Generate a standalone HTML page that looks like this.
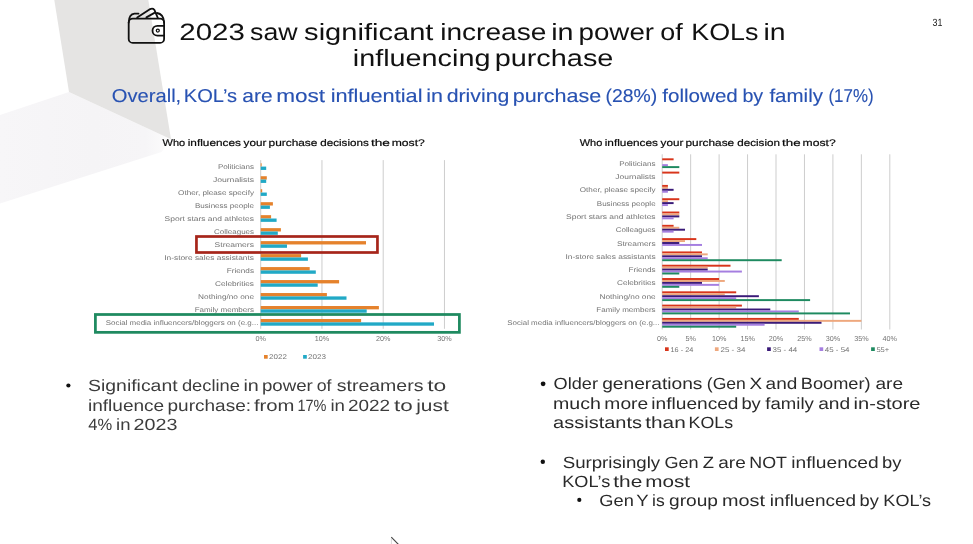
<!DOCTYPE html>
<html lang="en">
<head>
<meta charset="utf-8">
<title>2023 saw significant increase in power of KOLs in influencing purchase</title>
<style>
html,body{margin:0;padding:0;background:#fff;}
body{width:973px;height:544px;overflow:hidden;font-family:"Liberation Sans", sans-serif;}
svg{display:block;font-family:"Liberation Sans", sans-serif;text-rendering:geometricPrecision;}
</style>
</head>
<body>
<svg width="973" height="544" viewBox="0 0 973 544">
<defs>
<linearGradient id="gl" x1="0" y1="0" x2="1" y2="0">
<stop offset="0" stop-color="#f7f6f8"/><stop offset="0.55" stop-color="#f5f4f6"/><stop offset="0.85" stop-color="#f6f5f7"/><stop offset="1" stop-color="#fcfcfc"/>
</linearGradient>
</defs>
<rect width="973" height="544" fill="#ffffff"/>

<polygon points="0,115 69,92 171,139.3 161.5,152 0,203.6" fill="url(#gl)"/>
<polygon points="54.3,0 148.3,0 171,139.3 69,92" fill="#e5e4e3"/>
<g fill="none" stroke="#111" stroke-width="1.8" stroke-linecap="round" stroke-linejoin="round">
<rect x="128.7" y="18.6" width="35.4" height="24.3" rx="4" ry="4"/>
<path d="M128.7 22.5 Q128.9 14.2 134.5 13.7 L138.5 13.6"/>
<path d="M137.2 17.6 L150.2 9.1 Q152.6 7.9 154.4 9.8 L157.8 17.8"/>
<path d="M146.4 17.4 L154.4 12.9"/>
<path d="M157 13 Q163.6 14 164.1 22.5"/>
<path d="M164.2 25.8 H157.4 a4.9 4.9 0 0 0 0 9.8 H164.2"/>
<circle cx="157.8" cy="30.6" r="1.5" stroke-width="1.3"/>
</g>
<g id="headings">
<text y="39.8" font-size="23.6" fill="#111111"><tspan x="179.30" textLength="65.63" lengthAdjust="spacingAndGlyphs">2023</tspan> <tspan x="250.11" textLength="47.60" lengthAdjust="spacingAndGlyphs">saw</tspan> <tspan x="304.10" textLength="129.30" lengthAdjust="spacingAndGlyphs">significant</tspan> <tspan x="440.16" textLength="106.15" lengthAdjust="spacingAndGlyphs">increase</tspan> <tspan x="551.22" textLength="22.34" lengthAdjust="spacingAndGlyphs">in</tspan> <tspan x="578.52" textLength="75.54" lengthAdjust="spacingAndGlyphs">power</tspan> <tspan x="660.28" textLength="22.46" lengthAdjust="spacingAndGlyphs">of</tspan> <tspan x="691.22" textLength="67.22" lengthAdjust="spacingAndGlyphs">KOLs</tspan> <tspan x="763.54" textLength="22.05" lengthAdjust="spacingAndGlyphs">in</tspan></text>
<text y="65.8" font-size="23.6" fill="#111111"><tspan x="352.81" textLength="137.61" lengthAdjust="spacingAndGlyphs">influencing</tspan> <tspan x="494.67" textLength="118.74" lengthAdjust="spacingAndGlyphs">purchase</tspan></text>
<text y="101.8" font-size="18.6" fill="#2852b2" stroke="#2852b2" stroke-width="0.12"><tspan x="111.86" textLength="69.36" lengthAdjust="spacingAndGlyphs">Overall,</tspan> <tspan x="183.82" textLength="53.21" lengthAdjust="spacingAndGlyphs">KOL’s</tspan> <tspan x="242.32" textLength="30.28" lengthAdjust="spacingAndGlyphs">are</tspan> <tspan x="276.15" textLength="48.92" lengthAdjust="spacingAndGlyphs">most</tspan> <tspan x="330.66" textLength="91.84" lengthAdjust="spacingAndGlyphs">influential</tspan> <tspan x="426.21" textLength="16.73" lengthAdjust="spacingAndGlyphs">in</tspan> <tspan x="446.67" textLength="62.68" lengthAdjust="spacingAndGlyphs">driving</tspan> <tspan x="512.68" textLength="88.57" lengthAdjust="spacingAndGlyphs">purchase</tspan> <tspan x="605.59" textLength="51.71" lengthAdjust="spacingAndGlyphs">(28%)</tspan> <tspan x="662.26" textLength="75.54" lengthAdjust="spacingAndGlyphs">followed</tspan> <tspan x="742.42" textLength="20.81" lengthAdjust="spacingAndGlyphs">by</tspan> <tspan x="769.41" textLength="53.56" lengthAdjust="spacingAndGlyphs">family</tspan> <tspan x="828.44" textLength="45.12" lengthAdjust="spacingAndGlyphs">(17%)</tspan></text>
<text x="932.6" y="25.9" font-size="10.5" fill="#222222" textLength="9.9" lengthAdjust="spacingAndGlyphs">31</text>
</g>
<g id="chart-left">
<text y="146.2" font-size="9.7" fill="#0a0a0a" stroke="#0a0a0a" stroke-width="0.2"><tspan x="162.61" textLength="22.58" lengthAdjust="spacingAndGlyphs">Who</tspan> <tspan x="187.76" textLength="53.17" lengthAdjust="spacingAndGlyphs">influences</tspan> <tspan x="243.57" textLength="22.75" lengthAdjust="spacingAndGlyphs">your</tspan> <tspan x="268.55" textLength="48.88" lengthAdjust="spacingAndGlyphs">purchase</tspan> <tspan x="320.31" textLength="48.46" lengthAdjust="spacingAndGlyphs">decisions</tspan> <tspan x="370.92" textLength="18.97" lengthAdjust="spacingAndGlyphs">the</tspan> <tspan x="391.74" textLength="33.09" lengthAdjust="spacingAndGlyphs">most?</tspan></text>
<rect x="260.20" y="160.1" width="1" height="168.7" fill="#cdcdcd"/>
<rect x="321.45" y="160.1" width="1" height="168.7" fill="#cdcdcd"/>
<rect x="382.70" y="160.1" width="1" height="168.7" fill="#cdcdcd"/>
<rect x="443.95" y="160.1" width="1" height="168.7" fill="#cdcdcd"/>
<rect x="260.7" y="163.24" width="0.9" height="3.35" fill="#e5822c"/>
<rect x="260.7" y="166.59" width="5.5" height="3.35" fill="#21a9c6"/>
<text x="217.9" y="169.1" font-size="6.8" fill="#747474" textLength="36.1" lengthAdjust="spacingAndGlyphs">Politicians</text>
<rect x="260.7" y="176.22" width="6.1" height="3.35" fill="#e5822c"/>
<rect x="260.7" y="179.57" width="5.5" height="3.35" fill="#21a9c6"/>
<text x="212.9" y="182.1" font-size="6.8" fill="#747474" textLength="41.1" lengthAdjust="spacingAndGlyphs">Journalists</text>
<rect x="260.7" y="189.20" width="1.5" height="3.35" fill="#e5822c"/>
<rect x="260.7" y="192.55" width="6.1" height="3.35" fill="#21a9c6"/>
<text x="178.1" y="195.1" font-size="6.8" fill="#747474" textLength="75.9" lengthAdjust="spacingAndGlyphs">Other, please specify</text>
<rect x="260.7" y="202.18" width="12.2" height="3.35" fill="#e5822c"/>
<rect x="260.7" y="205.53" width="9.2" height="3.35" fill="#21a9c6"/>
<text x="195.0" y="208.0" font-size="6.8" fill="#747474" textLength="59.0" lengthAdjust="spacingAndGlyphs">Business people</text>
<rect x="260.7" y="215.16" width="10.4" height="3.35" fill="#e5822c"/>
<rect x="260.7" y="218.51" width="15.9" height="3.35" fill="#21a9c6"/>
<text x="164.6" y="221.0" font-size="6.8" fill="#747474" textLength="89.4" lengthAdjust="spacingAndGlyphs">Sport stars and athletes</text>
<rect x="260.7" y="228.14" width="20.2" height="3.35" fill="#e5822c"/>
<rect x="260.7" y="231.49" width="17.1" height="3.35" fill="#21a9c6"/>
<text x="214.1" y="234.0" font-size="6.8" fill="#747474" textLength="39.9" lengthAdjust="spacingAndGlyphs">Colleagues</text>
<rect x="260.7" y="241.12" width="105.3" height="3.35" fill="#e5822c"/>
<rect x="260.7" y="244.47" width="26.3" height="3.35" fill="#21a9c6"/>
<text x="214.6" y="247.0" font-size="6.8" fill="#747474" textLength="39.4" lengthAdjust="spacingAndGlyphs">Streamers</text>
<rect x="260.7" y="254.10" width="40.4" height="3.35" fill="#e5822c"/>
<rect x="260.7" y="257.45" width="47.2" height="3.35" fill="#21a9c6"/>
<text x="164.2" y="259.9" font-size="6.8" fill="#747474" textLength="89.8" lengthAdjust="spacingAndGlyphs">In-store sales assistants</text>
<rect x="260.7" y="267.08" width="49.0" height="3.35" fill="#e5822c"/>
<rect x="260.7" y="270.43" width="55.1" height="3.35" fill="#21a9c6"/>
<text x="226.8" y="272.9" font-size="6.8" fill="#747474" textLength="27.2" lengthAdjust="spacingAndGlyphs">Friends</text>
<rect x="260.7" y="280.06" width="78.4" height="3.35" fill="#e5822c"/>
<rect x="260.7" y="283.41" width="57.0" height="3.35" fill="#21a9c6"/>
<text x="215.0" y="285.9" font-size="6.8" fill="#747474" textLength="39.0" lengthAdjust="spacingAndGlyphs">Celebrities</text>
<rect x="260.7" y="293.04" width="66.2" height="3.35" fill="#e5822c"/>
<rect x="260.7" y="296.39" width="85.8" height="3.35" fill="#21a9c6"/>
<text x="198.1" y="298.9" font-size="6.8" fill="#747474" textLength="55.9" lengthAdjust="spacingAndGlyphs">Nothing/no one</text>
<rect x="260.7" y="306.02" width="118.2" height="3.35" fill="#e5822c"/>
<rect x="260.7" y="309.37" width="106.0" height="3.35" fill="#21a9c6"/>
<text x="194.7" y="311.9" font-size="6.8" fill="#747474" textLength="59.3" lengthAdjust="spacingAndGlyphs">Family members</text>
<rect x="260.7" y="319.00" width="100.4" height="3.35" fill="#e5822c"/>
<rect x="260.7" y="322.35" width="173.3" height="3.35" fill="#21a9c6"/>
<text x="105.7" y="324.9" font-size="6.8" fill="#747474" textLength="152.7" lengthAdjust="spacingAndGlyphs">Social media influencers/bloggers on (e.g...</text>
<text x="260.7" y="341.1" font-size="7.2" fill="#747474" text-anchor="middle">0%</text>
<text x="321.9" y="341.1" font-size="7.2" fill="#747474" text-anchor="middle">10%</text>
<text x="383.2" y="341.1" font-size="7.2" fill="#747474" text-anchor="middle">20%</text>
<text x="444.4" y="341.1" font-size="7.2" fill="#747474" text-anchor="middle">30%</text>
<rect x="264" y="355" width="3.7" height="3.7" fill="#e5822c"/>
<text x="269.1" y="359.4" font-size="6.8" fill="#747474" textLength="17.8" lengthAdjust="spacingAndGlyphs">2022</text>
<rect x="303.1" y="355" width="3.7" height="3.7" fill="#21a9c6"/>
<text x="308.0" y="359.4" font-size="6.8" fill="#747474" textLength="18.0" lengthAdjust="spacingAndGlyphs">2023</text>
<rect x="196.45" y="236.5" width="181.0" height="16.0" fill="none" stroke="#a6251a" stroke-width="2.7"/>
<rect x="95.4" y="314.5" width="364.0" height="17.85" fill="none" stroke="#1f8a60" stroke-width="2.75"/>
</g>
<g id="chart-right">
<text y="146.2" font-size="9.7" fill="#0a0a0a" stroke="#0a0a0a" stroke-width="0.2"><tspan x="579.71" textLength="22.59" lengthAdjust="spacingAndGlyphs">Who</tspan> <tspan x="604.76" textLength="53.17" lengthAdjust="spacingAndGlyphs">influences</tspan> <tspan x="660.57" textLength="22.75" lengthAdjust="spacingAndGlyphs">your</tspan> <tspan x="685.55" textLength="48.61" lengthAdjust="spacingAndGlyphs">purchase</tspan> <tspan x="737.30" textLength="42.66" lengthAdjust="spacingAndGlyphs">decision</tspan> <tspan x="782.13" textLength="18.49" lengthAdjust="spacingAndGlyphs">the</tspan> <tspan x="802.58" textLength="33.09" lengthAdjust="spacingAndGlyphs">most?</tspan></text>
<rect x="661.70" y="154.3" width="1" height="175.2" fill="#cdcdcd"/>
<rect x="690.15" y="154.3" width="1" height="175.2" fill="#cdcdcd"/>
<rect x="718.60" y="154.3" width="1" height="175.2" fill="#cdcdcd"/>
<rect x="747.05" y="154.3" width="1" height="175.2" fill="#cdcdcd"/>
<rect x="775.50" y="154.3" width="1" height="175.2" fill="#cdcdcd"/>
<rect x="803.95" y="154.3" width="1" height="175.2" fill="#cdcdcd"/>
<rect x="832.40" y="154.3" width="1" height="175.2" fill="#cdcdcd"/>
<rect x="860.85" y="154.3" width="1" height="175.2" fill="#cdcdcd"/>
<rect x="889.30" y="154.3" width="1" height="175.2" fill="#cdcdcd"/>
<rect x="662.2" y="158.33" width="11.4" height="1.95" fill="#d8351b"/>
<rect x="662.2" y="164.18" width="5.7" height="1.95" fill="#a57ee0"/>
<rect x="662.2" y="166.13" width="17.1" height="1.95" fill="#1e8a60"/>
<text x="619.2" y="165.7" font-size="6.8" fill="#747474" textLength="36.4" lengthAdjust="spacingAndGlyphs">Politicians</text>
<rect x="662.2" y="171.62" width="17.1" height="1.95" fill="#d8351b"/>
<text x="615.3" y="179.0" font-size="6.8" fill="#747474" textLength="40.3" lengthAdjust="spacingAndGlyphs">Journalists</text>
<rect x="662.2" y="184.93" width="5.7" height="1.95" fill="#d8351b"/>
<rect x="662.2" y="186.88" width="5.7" height="1.95" fill="#eea87e"/>
<rect x="662.2" y="188.83" width="11.4" height="1.95" fill="#3a1a78"/>
<rect x="662.2" y="190.78" width="5.7" height="1.95" fill="#a57ee0"/>
<text x="579.8" y="192.3" font-size="6.8" fill="#747474" textLength="75.8" lengthAdjust="spacingAndGlyphs">Other, please specify</text>
<rect x="662.2" y="198.23" width="17.1" height="1.95" fill="#d8351b"/>
<rect x="662.2" y="200.18" width="5.7" height="1.95" fill="#eea87e"/>
<rect x="662.2" y="202.13" width="11.4" height="1.95" fill="#3a1a78"/>
<rect x="662.2" y="204.08" width="5.7" height="1.95" fill="#a57ee0"/>
<text x="596.8" y="205.6" font-size="6.8" fill="#747474" textLength="58.8" lengthAdjust="spacingAndGlyphs">Business people</text>
<rect x="662.2" y="211.53" width="17.1" height="1.95" fill="#d8351b"/>
<rect x="662.2" y="213.47" width="17.1" height="1.95" fill="#eea87e"/>
<rect x="662.2" y="215.43" width="17.1" height="1.95" fill="#3a1a78"/>
<rect x="662.2" y="217.38" width="11.4" height="1.95" fill="#a57ee0"/>
<text x="566.0" y="218.9" font-size="6.8" fill="#747474" textLength="89.6" lengthAdjust="spacingAndGlyphs">Sport stars and athletes</text>
<rect x="662.2" y="224.83" width="11.4" height="1.95" fill="#d8351b"/>
<rect x="662.2" y="226.78" width="17.1" height="1.95" fill="#eea87e"/>
<rect x="662.2" y="228.73" width="22.8" height="1.95" fill="#3a1a78"/>
<rect x="662.2" y="230.68" width="11.4" height="1.95" fill="#a57ee0"/>
<text x="615.8" y="232.2" font-size="6.8" fill="#747474" textLength="39.8" lengthAdjust="spacingAndGlyphs">Colleagues</text>
<rect x="662.2" y="238.12" width="34.1" height="1.95" fill="#d8351b"/>
<rect x="662.2" y="240.07" width="22.8" height="1.95" fill="#eea87e"/>
<rect x="662.2" y="242.03" width="17.1" height="1.95" fill="#3a1a78"/>
<rect x="662.2" y="243.97" width="39.8" height="1.95" fill="#a57ee0"/>
<text x="616.9" y="245.5" font-size="6.8" fill="#747474" textLength="38.7" lengthAdjust="spacingAndGlyphs">Streamers</text>
<rect x="662.2" y="251.43" width="39.8" height="1.95" fill="#d8351b"/>
<rect x="662.2" y="253.38" width="45.5" height="1.95" fill="#eea87e"/>
<rect x="662.2" y="255.33" width="39.8" height="1.95" fill="#3a1a78"/>
<rect x="662.2" y="257.28" width="45.5" height="1.95" fill="#a57ee0"/>
<rect x="662.2" y="259.23" width="119.5" height="1.95" fill="#1e8a60"/>
<text x="565.5" y="258.8" font-size="6.8" fill="#747474" textLength="90.1" lengthAdjust="spacingAndGlyphs">In-store sales assistants</text>
<rect x="662.2" y="264.73" width="68.3" height="1.95" fill="#d8351b"/>
<rect x="662.2" y="266.68" width="45.5" height="1.95" fill="#eea87e"/>
<rect x="662.2" y="268.62" width="45.5" height="1.95" fill="#3a1a78"/>
<rect x="662.2" y="270.58" width="79.7" height="1.95" fill="#a57ee0"/>
<rect x="662.2" y="272.53" width="17.1" height="1.95" fill="#1e8a60"/>
<text x="628.5" y="272.1" font-size="6.8" fill="#747474" textLength="27.1" lengthAdjust="spacingAndGlyphs">Friends</text>
<rect x="662.2" y="278.03" width="56.9" height="1.95" fill="#d8351b"/>
<rect x="662.2" y="279.98" width="62.6" height="1.95" fill="#eea87e"/>
<rect x="662.2" y="281.93" width="39.8" height="1.95" fill="#3a1a78"/>
<rect x="662.2" y="283.88" width="56.9" height="1.95" fill="#a57ee0"/>
<rect x="662.2" y="285.83" width="17.1" height="1.95" fill="#1e8a60"/>
<text x="617.0" y="285.4" font-size="6.8" fill="#747474" textLength="38.6" lengthAdjust="spacingAndGlyphs">Celebrities</text>
<rect x="662.2" y="291.33" width="74.0" height="1.95" fill="#d8351b"/>
<rect x="662.2" y="293.28" width="62.6" height="1.95" fill="#eea87e"/>
<rect x="662.2" y="295.23" width="96.7" height="1.95" fill="#3a1a78"/>
<rect x="662.2" y="297.18" width="74.0" height="1.95" fill="#a57ee0"/>
<rect x="662.2" y="299.13" width="147.9" height="1.95" fill="#1e8a60"/>
<text x="599.5" y="298.7" font-size="6.8" fill="#747474" textLength="56.1" lengthAdjust="spacingAndGlyphs">Nothing/no one</text>
<rect x="662.2" y="304.62" width="79.7" height="1.95" fill="#d8351b"/>
<rect x="662.2" y="306.57" width="74.0" height="1.95" fill="#eea87e"/>
<rect x="662.2" y="308.52" width="108.1" height="1.95" fill="#3a1a78"/>
<rect x="662.2" y="310.48" width="136.6" height="1.95" fill="#a57ee0"/>
<rect x="662.2" y="312.43" width="187.8" height="1.95" fill="#1e8a60"/>
<text x="596.3" y="312.0" font-size="6.8" fill="#747474" textLength="59.3" lengthAdjust="spacingAndGlyphs">Family members</text>
<rect x="662.2" y="317.93" width="136.6" height="1.95" fill="#d8351b"/>
<rect x="662.2" y="319.88" width="199.2" height="1.95" fill="#eea87e"/>
<rect x="662.2" y="321.82" width="159.3" height="1.95" fill="#3a1a78"/>
<rect x="662.2" y="323.78" width="102.4" height="1.95" fill="#a57ee0"/>
<rect x="662.2" y="325.73" width="74.0" height="1.95" fill="#1e8a60"/>
<text x="507.3" y="325.3" font-size="6.8" fill="#747474" textLength="152.2" lengthAdjust="spacingAndGlyphs">Social media influencers/bloggers on (e.g...</text>
<text x="662.2" y="341.4" font-size="7.2" fill="#747474" text-anchor="middle">0%</text>
<text x="690.7" y="341.4" font-size="7.2" fill="#747474" text-anchor="middle">5%</text>
<text x="719.1" y="341.4" font-size="7.2" fill="#747474" text-anchor="middle">10%</text>
<text x="747.6" y="341.4" font-size="7.2" fill="#747474" text-anchor="middle">15%</text>
<text x="776.0" y="341.4" font-size="7.2" fill="#747474" text-anchor="middle">20%</text>
<text x="804.5" y="341.4" font-size="7.2" fill="#747474" text-anchor="middle">25%</text>
<text x="832.9" y="341.4" font-size="7.2" fill="#747474" text-anchor="middle">30%</text>
<text x="861.4" y="341.4" font-size="7.2" fill="#747474" text-anchor="middle">35%</text>
<text x="889.8" y="341.4" font-size="7.2" fill="#747474" text-anchor="middle">40%</text>
<rect x="665.0" y="347.3" width="3.7" height="3.7" fill="#d8351b"/>
<text x="670.5" y="351.6" font-size="6.8" fill="#747474" textLength="22.8" lengthAdjust="spacingAndGlyphs">16 - 24</text>
<rect x="714.9" y="347.3" width="3.7" height="3.7" fill="#eea87e"/>
<text x="720.5" y="351.6" font-size="6.8" fill="#747474" textLength="24.9" lengthAdjust="spacingAndGlyphs">25 - 34</text>
<rect x="767.1" y="347.3" width="3.7" height="3.7" fill="#3a1a78"/>
<text x="772.6" y="351.6" font-size="6.8" fill="#747474" textLength="24.7" lengthAdjust="spacingAndGlyphs">35 - 44</text>
<rect x="819.5" y="347.3" width="3.7" height="3.7" fill="#a57ee0"/>
<text x="824.8" y="351.6" font-size="6.8" fill="#747474" textLength="24.7" lengthAdjust="spacingAndGlyphs">45 - 54</text>
<rect x="871.1" y="347.3" width="3.7" height="3.7" fill="#1e8a60"/>
<text x="876.4" y="351.6" font-size="6.8" fill="#747474" textLength="12.8" lengthAdjust="spacingAndGlyphs">55+</text>
</g>
<g id="notes">
<circle cx="68.4" cy="385.5" r="2.1" fill="#111"/>
<text y="390.9" font-size="16.3" fill="#3c3c3c"><tspan x="88.07" textLength="89.52" lengthAdjust="spacingAndGlyphs">Significant</tspan> <tspan x="181.94" textLength="58.02" lengthAdjust="spacingAndGlyphs">decline</tspan> <tspan x="243.42" textLength="15.40" lengthAdjust="spacingAndGlyphs">in</tspan> <tspan x="261.93" textLength="50.92" lengthAdjust="spacingAndGlyphs">power</tspan> <tspan x="316.72" textLength="14.82" lengthAdjust="spacingAndGlyphs">of</tspan> <tspan x="336.72" textLength="86.72" lengthAdjust="spacingAndGlyphs">streamers</tspan> <tspan x="427.21" textLength="19.05" lengthAdjust="spacingAndGlyphs">to</tspan></text>
<text y="410.8" font-size="16.3" fill="#3c3c3c"><tspan x="87.99" textLength="76.24" lengthAdjust="spacingAndGlyphs">influence</tspan> <tspan x="167.52" textLength="83.53" lengthAdjust="spacingAndGlyphs">purchase:</tspan> <tspan x="253.90" textLength="40.57" lengthAdjust="spacingAndGlyphs">from</tspan> <tspan x="297.39" textLength="29.07" lengthAdjust="spacingAndGlyphs">17%</tspan> <tspan x="330.43" textLength="14.54" lengthAdjust="spacingAndGlyphs">in</tspan> <tspan x="348.02" textLength="42.06" lengthAdjust="spacingAndGlyphs">2022</tspan> <tspan x="393.98" textLength="18.75" lengthAdjust="spacingAndGlyphs">to</tspan> <tspan x="416.23" textLength="32.52" lengthAdjust="spacingAndGlyphs">just</tspan></text>
<text y="430.1" font-size="16.3" fill="#3c3c3c"><tspan x="88.37" textLength="23.96" lengthAdjust="spacingAndGlyphs">4%</tspan> <tspan x="116.08" textLength="14.42" lengthAdjust="spacingAndGlyphs">in</tspan> <tspan x="133.62" textLength="43.83" lengthAdjust="spacingAndGlyphs">2023</tspan></text>
<circle cx="543.1" cy="383.8" r="2.4" fill="#111"/>
<text y="389.4" font-size="16.3" fill="#2a2a2a"><tspan x="553.64" textLength="44.34" lengthAdjust="spacingAndGlyphs">Older</tspan> <tspan x="602.17" textLength="100.30" lengthAdjust="spacingAndGlyphs">generations</tspan> <tspan x="706.81" textLength="39.10" lengthAdjust="spacingAndGlyphs">(Gen</tspan> <tspan x="749.51" textLength="12.68" lengthAdjust="spacingAndGlyphs">X</tspan> <tspan x="765.62" textLength="31.77" lengthAdjust="spacingAndGlyphs">and</tspan> <tspan x="800.81" textLength="69.78" lengthAdjust="spacingAndGlyphs">Boomer)</tspan> <tspan x="875.46" textLength="27.57" lengthAdjust="spacingAndGlyphs">are</tspan></text>
<text y="408.8" font-size="16.3" fill="#2a2a2a"><tspan x="553.09" textLength="47.86" lengthAdjust="spacingAndGlyphs">much</tspan> <tspan x="604.38" textLength="43.79" lengthAdjust="spacingAndGlyphs">more</tspan> <tspan x="651.31" textLength="87.20" lengthAdjust="spacingAndGlyphs">influenced</tspan> <tspan x="741.40" textLength="19.42" lengthAdjust="spacingAndGlyphs">by</tspan> <tspan x="765.36" textLength="48.57" lengthAdjust="spacingAndGlyphs">family</tspan> <tspan x="818.15" textLength="32.02" lengthAdjust="spacingAndGlyphs">and</tspan> <tspan x="853.60" textLength="66.90" lengthAdjust="spacingAndGlyphs">in-store</tspan></text>
<text y="428.1" font-size="16.3" fill="#2a2a2a"><tspan x="553.13" textLength="88.91" lengthAdjust="spacingAndGlyphs">assistants</tspan> <tspan x="645.25" textLength="40.51" lengthAdjust="spacingAndGlyphs">than</tspan> <tspan x="688.63" textLength="44.51" lengthAdjust="spacingAndGlyphs">KOLs</tspan></text>
<circle cx="542.8" cy="461.7" r="2.2" fill="#111"/>
<text y="467.6" font-size="16.3" fill="#2a2a2a"><tspan x="562.69" textLength="97.50" lengthAdjust="spacingAndGlyphs">Surprisingly</tspan> <tspan x="664.40" textLength="34.18" lengthAdjust="spacingAndGlyphs">Gen</tspan> <tspan x="702.82" textLength="11.27" lengthAdjust="spacingAndGlyphs">Z</tspan> <tspan x="718.30" textLength="27.48" lengthAdjust="spacingAndGlyphs">are</tspan> <tspan x="749.29" textLength="37.33" lengthAdjust="spacingAndGlyphs">NOT</tspan> <tspan x="791.31" textLength="87.41" lengthAdjust="spacingAndGlyphs">influenced</tspan> <tspan x="882.07" textLength="19.38" lengthAdjust="spacingAndGlyphs">by</tspan></text>
<text y="486.8" font-size="16.3" fill="#2a2a2a"><tspan x="562.23" textLength="48.00" lengthAdjust="spacingAndGlyphs">KOL’s</tspan> <tspan x="613.26" textLength="29.00" lengthAdjust="spacingAndGlyphs">the</tspan> <tspan x="645.16" textLength="44.88" lengthAdjust="spacingAndGlyphs">most</tspan></text>
<circle cx="579.3" cy="499.9" r="2.1" fill="#111"/>
<text y="506.0" font-size="16.3" fill="#2a2a2a"><tspan x="599.33" textLength="34.45" lengthAdjust="spacingAndGlyphs">Gen</tspan> <tspan x="636.22" textLength="12.07" lengthAdjust="spacingAndGlyphs">Y</tspan> <tspan x="652.08" textLength="12.64" lengthAdjust="spacingAndGlyphs">is</tspan> <tspan x="669.09" textLength="48.92" lengthAdjust="spacingAndGlyphs">group</tspan> <tspan x="721.94" textLength="42.97" lengthAdjust="spacingAndGlyphs">most</tspan> <tspan x="769.79" textLength="86.32" lengthAdjust="spacingAndGlyphs">influenced</tspan> <tspan x="859.63" textLength="19.25" lengthAdjust="spacingAndGlyphs">by</tspan> <tspan x="883.37" textLength="47.76" lengthAdjust="spacingAndGlyphs">KOL’s</tspan></text>
</g>
<path d="M391.3 537.2 L399 545" stroke="#444" stroke-width="1.1" fill="none"/>
<path d="M391.4 538 V545" stroke="#cfcfcf" stroke-width="0.8" fill="none"/>
</svg>
</body>
</html>
